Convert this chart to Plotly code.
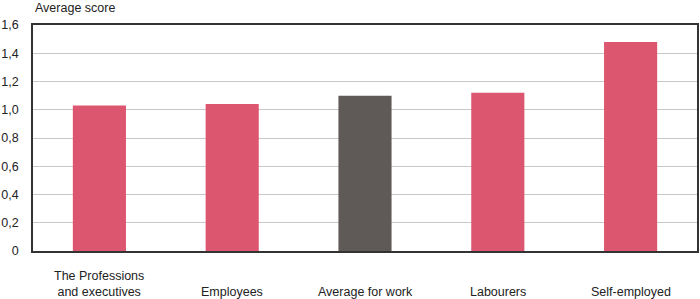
import plotly.graph_objects as go

categories = ["The Professions and executives", "Employees", "Average for work", "Labourers", "Self-employed"]
labels = ["The Professions<br>and executives", "Employees", "Average for work", "Labourers", "Self-employed"]
values = [1.03, 1.04, 1.10, 1.12, 1.48]
colors = ["#DC5670", "#DC5670", "#5F5A58", "#DC5670", "#DC5670"]
y_ticks = [0, 0.2, 0.4, 0.6, 0.8, 1.0, 1.2, 1.4, 1.6]

FONT = "Liberation Sans, Arial, sans-serif"

fig = go.Figure(go.Bar(x=categories, y=values, marker=dict(color=colors, line=dict(width=0)), width=0.4))

for cat, lab in zip(categories, labels):
    fig.add_annotation(x=cat, xref="x", y=0, yref="paper", yanchor="bottom", yshift=-50,
                       text=lab, showarrow=False, font=dict(family=FONT, size=12.5, color="#222"))

fig.add_annotation(x=0, xref="paper", xanchor="left", y=1, yref="paper", yanchor="bottom", yshift=8,
                   text="Average score", showarrow=False, font=dict(family=FONT, size=12.5, color="#222"))

fig.update_layout(
    width=700, height=299, margin=dict(l=30, r=1, t=25, b=48),
    paper_bgcolor="white", plot_bgcolor="white",
    showlegend=False,
    font=dict(family=FONT, size=12.5, color="#222"),
    xaxis=dict(showticklabels=False, showline=True, linecolor="#333", linewidth=1.5, mirror=True,
               showgrid=False, ticks=""),
    yaxis=dict(range=[0, 1.6], showline=True, linecolor="#333",
               linewidth=1.5, mirror=True, showgrid=True, gridcolor="#C8C8C8", gridwidth=1,
               zeroline=False, ticks="", ticklabelstandoff=10),
)
fig.update_yaxes(tickvals=y_ticks, ticktext=["0"] + [f"{v:.1f}".replace(".", ",") for v in y_ticks[1:]])

fig.write_html("out.html")
